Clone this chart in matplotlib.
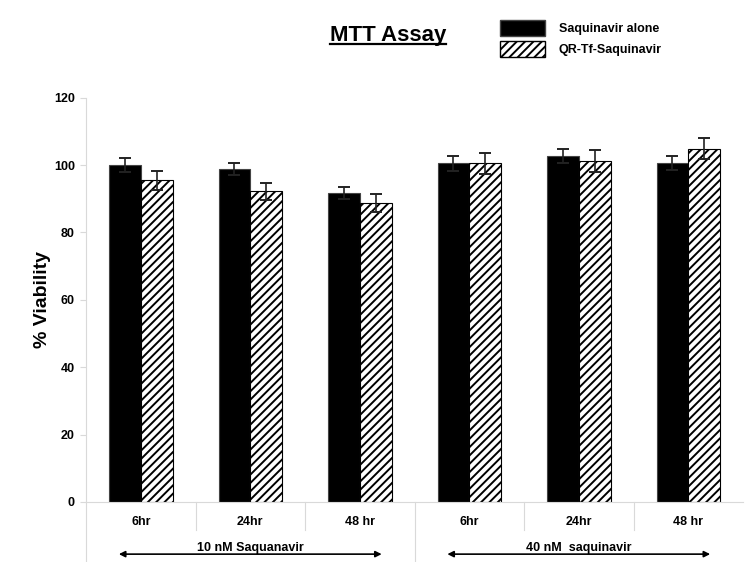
import numpy as np
import matplotlib
matplotlib.use("Agg")
import matplotlib.pyplot as plt
from matplotlib.patches import Patch
from matplotlib.lines import Line2D

plt.rcParams["font.family"] = ["Liberation Sans", "DejaVu Sans"]
plt.rcParams["font.weight"] = "bold"
plt.rcParams["hatch.linewidth"] = 1.4

horas = ["6hr", "24hr", "48 hr", "6hr", "24hr", "48 hr"]
grupos = ["10 nM Saquanavir", "40 nM  saquinavir"]
saq_sozinho = [100.0, 98.9, 91.6, 100.5, 102.7, 100.5]
saq_sozinho_err = [2.0, 1.8, 1.8, 2.2, 2.1, 2.1]
qr_tf_saq = [95.5, 92.2, 88.8, 100.5, 101.2, 104.8]
qr_tf_saq_err = [2.8, 2.5, 2.7, 3.1, 3.2, 3.1]

fig = plt.figure(figsize=(7.46, 5.62), dpi=100)
ax = fig.add_axes([0.1153, 0.1068, 0.8807, 0.7194])

x = np.arange(len(horas))
w = 0.29
cinza = "#d9d9d9"
hachura = "////"

ax.bar(x - w / 2, saq_sozinho, w, color="black", edgecolor="#444444", linewidth=0.8)
ax.bar(x + w / 2, qr_tf_saq, w, color="white", edgecolor="black", hatch=hachura, linewidth=0.8)
ax.errorbar(x - w / 2, saq_sozinho, yerr=saq_sozinho_err, fmt="none", ecolor="#222222",
            elinewidth=1.2, capsize=4, capthick=1.4)
ax.errorbar(x + w / 2, qr_tf_saq, yerr=qr_tf_saq_err, fmt="none", ecolor="#222222",
            elinewidth=1.2, capsize=4, capthick=1.4)

ax.set_xlim(-0.5, len(horas) - 0.5)
ax.set_ylim(0, 120)
ax.set_yticks(np.arange(0, 121, 20))
ax.tick_params(axis="y", labelsize=9, length=4, color=cinza, width=0.8, pad=4)
ax.set_xticks(x)
ax.set_xticklabels(horas, fontsize=9)
ax.tick_params(axis="x", length=0, pad=10)
for lado in ["top", "right"]:
    ax.spines[lado].set_visible(False)
for lado in ["left", "bottom"]:
    ax.spines[lado].set_color(cinza)
    ax.spines[lado].set_linewidth(0.8)

ax.set_ylabel("% Viability", fontsize=14, fontweight="bold", labelpad=2)

# separadores das categorias abaixo do eixo x (dois niveis)
trans = ax.get_xaxis_transform()
for b in np.arange(0.5, len(horas) - 0.5):
    fundo = -0.19 if b == 2.5 else -0.07
    ax.add_line(Line2D([b, b], [0, fundo], transform=trans, color=cinza,
                       linewidth=0.8, clip_on=False))
ax.add_line(Line2D([-0.5, -0.5], [0, -0.19], transform=trans, color=cinza,
                   linewidth=0.8, clip_on=False))

# rotulos dos grupos com setas duplas
for i, nome in enumerate(grupos):
    c = 3 * i + 1
    ax.text(c, -0.113, nome, transform=trans, ha="center", va="center", fontsize=9)
    ax.annotate("", xy=(c - 1.2, -0.129), xytext=(c + 1.2, -0.129),
                xycoords=trans, textcoords=trans, annotation_clip=False,
                arrowprops=dict(arrowstyle="<|-|>", color="black", lw=1.2,
                                mutation_scale=9, shrinkA=0, shrinkB=0))

# titulo sublinhado
titulo = fig.text(388 / 746, 1 - 35 / 562, "MTT Assay", ha="center", va="center",
                  fontsize=16, fontweight="bold")
fig.canvas.draw()
bb = titulo.get_window_extent().transformed(fig.transFigure.inverted())
fig.add_artist(Line2D([bb.x0, bb.x1], [bb.y0 + 0.002, bb.y0 + 0.002],
                      transform=fig.transFigure, color="black", linewidth=1.6))

handles = [Patch(facecolor="black", edgecolor="#444444", label="Saquinavir alone"),
           Patch(facecolor="white", edgecolor="black", hatch=hachura, label="QR-Tf-Saquinavir")]
fig.legend(handles=handles, loc="upper left", bbox_to_anchor=(500 / 746, 1 - 20 / 562),
           frameon=False, prop={"size": 9, "weight": "bold"}, borderpad=0,
           handlelength=3.6, handleheight=1.55, handletextpad=1.1, labelspacing=0.45,
           borderaxespad=0)

fig.savefig("out.png", dpi=100)
